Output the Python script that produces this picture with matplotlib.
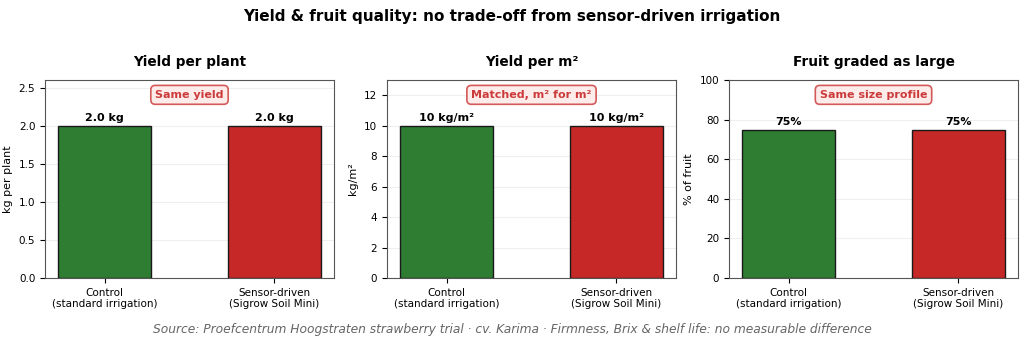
import matplotlib
matplotlib.use("Agg")
import matplotlib.pyplot as plt

categories = ["Control\n(standard irrigation)", "Sensor-driven\n(Sigrow Soil Mini)"]
yield_per_plant = [2.0, 2.0]
yield_per_m2 = [10, 10]
large_fruit_pct = [75, 75]

titles = ["Yield per plant", "Yield per m²", "Fruit graded as large"]
ylabels = ["kg per plant", "kg/m²", "% of fruit"]
badges = ["Same yield", "Matched, m² for m²", "Same size profile"]
label_fmt = ["{:.1f} kg", "{:.0f} kg/m²", "{:.0f}%"]
ylims = [2.6, 13, 100]
colors = ["#2e7d32", "#c62828"]

fig = plt.figure(figsize=(10.24, 3.44), dpi=100)
axes = []
lefts = [45, 387, 729]
for l in lefts:
    axes.append(fig.add_axes([l / 1024, 66 / 344, 289 / 1024, 198 / 344]))

datasets = [yield_per_plant, yield_per_m2, large_fruit_pct]
for ax, vals, t, yl, b, fmt, top in zip(axes, datasets, titles, ylabels, badges, label_fmt, ylims):
    x = range(len(categories))
    ax.bar(x, vals, width=0.55, color=colors, edgecolor="#1a1a1a", linewidth=1, zorder=3)
    ax.set_xticks(list(x))
    ax.set_xticklabels(categories, fontsize=7.5)
    ax.set_ylim(0, top)
    ax.tick_params(axis="y", labelsize=7.5)
    ax.set_ylabel(yl, fontsize=8)
    ax.set_title(t, fontsize=9.8, fontweight="bold", pad=10)
    ax.grid(axis="y", color="#efefef", linewidth=0.8, zorder=0)
    ax.set_axisbelow(True)
    for s in ax.spines.values():
        s.set_color("#555555")
    for xi, v in zip(x, vals):
        ax.text(xi, v + top * 0.012, fmt.format(v), ha="center", va="bottom",
                fontsize=8, fontweight="bold")
    ax.text(0.5, 0.925, b, transform=ax.transAxes, ha="center", va="center",
            fontsize=8, fontweight="bold", color="#c62828", alpha=0.9,
            bbox=dict(boxstyle="round,pad=0.4", facecolor="#fdecea",
                      edgecolor="#d45a5a", linewidth=1.2))

fig.suptitle("Yield & fruit quality: no trade-off from sensor-driven irrigation",
             fontsize=11, fontweight="bold", y=0.975)
fig.text(0.5, 0.042, "Source: Proefcentrum Hoogstraten strawberry trial · cv. Karima · "
         "Firmness, Brix & shelf life: no measurable difference",
         ha="center", va="center", fontsize=8.85, style="italic", color="#666666")

fig.savefig("out.png", dpi=100)
